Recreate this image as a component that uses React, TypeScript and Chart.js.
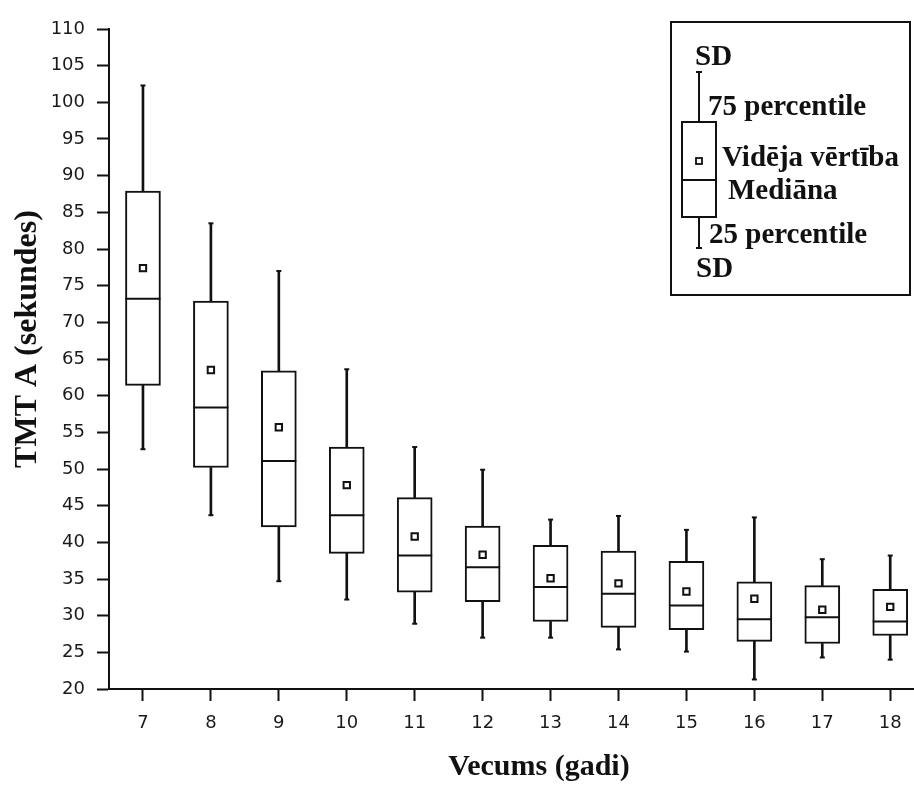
import React, { useEffect, useRef } from "react";
import { Chart, registerables } from "chart.js";

Chart.register(...registerables);

// ---- data ----
const ages = [7, 8, 9, 10, 11, 12, 13, 14, 15, 16, 17, 18];
const sdHigh = [102.3, 83.5, 77.0, 63.6, 53.0, 49.9, 43.1, 43.6, 41.7, 43.4, 37.7, 38.2];
const q3 = [87.9, 72.9, 63.4, 53.0, 46.1, 42.2, 39.6, 38.8, 37.4, 34.6, 34.1, 33.6];
const means = [77.4, 63.5, 55.7, 47.8, 40.8, 38.3, 35.1, 34.4, 33.3, 32.3, 30.8, 31.2];
const medians = [73.2, 58.4, 51.1, 43.7, 38.2, 36.6, 33.9, 33.0, 31.4, 29.5, 29.8, 29.2];
const q1 = [61.4, 50.2, 42.1, 38.5, 33.2, 31.9, 29.2, 28.4, 28.1, 26.5, 26.2, 27.3];
const sdLow = [52.7, 43.7, 34.7, 32.2, 28.9, 27.0, 27.0, 25.4, 25.1, 21.3, 24.3, 24.0];
const yMin = 20;
const yMax = 110;
const yStep = 5;
const xTitle = "Vecums (gadi)";
const yTitle = "TMT A (sekundes)";
const legendSDTop = "SD";
const legendQ3 = "75 percentile";
const legendMean = "Vidēja vērtība";
const legendMedian = "Mediāna";
const legendQ1 = "25 percentile";
const legendSDBottom = "SD";

const INK = "#111";
const TICK_FONT = { family: "'DejaVu Sans', sans-serif", size: 18 };

const annotPlugin = {
  id: "annot",
  afterDraw(chart: any) {
    const ctx = chart.ctx;
    const area = chart.chartArea;
    ctx.save();
    ctx.fillStyle = INK;
    ctx.strokeStyle = INK;
    // axis titles
    ctx.font = "bold 32px 'Liberation Serif', serif";
    ctx.textAlign = "center";
    ctx.textBaseline = "middle";
    ctx.save();
    ctx.translate(28, area.top + 310);
    ctx.rotate(-Math.PI / 2);
    ctx.fillText(yTitle, 0, 0);
    ctx.restore();
    ctx.font = "bold 30px 'Liberation Serif', serif";
    ctx.fillText(xTitle, 539, area.bottom + 78);

    // legend key box
    const L = 671;
    const T = area.top - 7;
    ctx.lineWidth = 2;
    ctx.strokeRect(L, T, 239, 273);
    const cx = L + 28;
    const bx0 = L + 11, bw = 34;
    const wTop = T + 50, bTop = T + 100, med = T + 158, bBot = T + 195, wBot = T + 226;
    ctx.beginPath();
    ctx.moveTo(cx, wTop); ctx.lineTo(cx, bTop);
    ctx.moveTo(cx, bBot); ctx.lineTo(cx, wBot);
    ctx.moveTo(cx - 3, wTop); ctx.lineTo(cx + 3, wTop);
    ctx.moveTo(cx - 3, wBot); ctx.lineTo(cx + 3, wBot);
    ctx.moveTo(bx0, med); ctx.lineTo(bx0 + bw, med);
    ctx.stroke();
    ctx.strokeRect(bx0, bTop, bw, bBot - bTop);
    ctx.lineWidth = 1.8;
    ctx.strokeRect(cx - 3, T + 136, 6, 6);

    ctx.font = "bold 29px 'Liberation Serif', serif";
    ctx.textAlign = "left";
    ctx.textBaseline = "alphabetic";
    ctx.fillText(legendSDTop, L + 24, T + 43);
    ctx.fillText(legendQ3, L + 37, T + 93);
    ctx.fillText(legendMean, L + 51, T + 144);
    ctx.fillText(legendMedian, L + 57, T + 177);
    ctx.fillText(legendQ1, L + 38, T + 221);
    ctx.fillText(legendSDBottom, L + 25, T + 255);
    ctx.restore();
  },
};

export default function App() {
  const ref = useRef<HTMLCanvasElement | null>(null);
  useEffect(() => {
    if (!ref.current) return;
    const chart = new Chart(ref.current, {
      type: "bar",
      data: {
        datasets: [
          {
            type: "scatter",
            label: "Vidēja vērtība",
            data: ages.map((a, i) => ({ x: a, y: means[i] })),
            pointStyle: "rect",
            pointRadius: 4.5,
            borderColor: INK,
            backgroundColor: "#fff",
            borderWidth: 2,
            order: 0,
          } as any,
          {
            type: "scatter",
            label: "Mediāna",
            data: ages.map((a, i) => ({ x: a, y: medians[i] })),
            pointStyle: "line",
            pointRadius: 17.5,
            borderColor: INK,
            borderWidth: 2,
            order: 1,
          } as any,
          {
            type: "scatter",
            label: "SD caps",
            data: [
              ...ages.map((a, i) => ({ x: a, y: sdHigh[i] })),
              ...ages.map((a, i) => ({ x: a, y: sdLow[i] })),
            ],
            pointStyle: "line",
            pointRadius: 2.5,
            borderColor: INK,
            borderWidth: 2,
            order: 2,
          } as any,
          {
            type: "bar",
            label: "25-75 percentile",
            data: ages.map((a, i) => ({ x: a, y: [q1[i], q3[i]] })),
            backgroundColor: "#fff",
            borderColor: INK,
            borderWidth: 2,
            borderSkipped: false,
            barThickness: 35,
            grouped: false,
            order: 3,
          } as any,
          {
            type: "bar",
            label: "SD upper",
            data: ages.map((a, i) => ({ x: a, y: [q3[i], sdHigh[i]] })),
            backgroundColor: INK,
            borderWidth: 0,
            barThickness: 2,
            grouped: false,
            order: 4,
          } as any,
          {
            type: "bar",
            label: "SD lower",
            data: ages.map((a, i) => ({ x: a, y: [sdLow[i], q1[i]] })),
            backgroundColor: INK,
            borderWidth: 0,
            barThickness: 2,
            grouped: false,
            order: 5,
          } as any,
        ],
      },
      options: {
        animation: false,
        responsive: false,
        devicePixelRatio: 1,
        layout: { autoPadding: false, padding: { top: 29, right: 0, left: 0, bottom: 0 } },
        plugins: { legend: { display: false }, tooltip: { enabled: false } },
        scales: {
          x: {
            type: "linear",
            offset: false,
            min: 6.5,
            max: 18.35,
            afterBuildTicks: (s: any) => {
              s.ticks = ages.map((v) => ({ value: v }));
            },
            afterFit: (s: any) => {
              s.height = 96;
              s.paddingLeft = 0;
              s.paddingRight = 0;
            },
            ticks: {
              font: TICK_FONT,
              color: "#1a1a1a",
              padding: 12,
              maxRotation: 0,
              autoSkip: false,
              callback: (v: any) => String(v),
            },
            grid: { offset: false, drawOnChartArea: false, drawTicks: true, tickLength: 12, tickColor: INK, tickWidth: 2 },
            border: { color: INK, width: 2 },
          },
          y: {
            type: "linear",
            min: yMin,
            max: yMax,
            afterFit: (s: any) => {
              s.width = 109;
            },
            ticks: {
              stepSize: yStep,
              font: TICK_FONT,
              color: "#1a1a1a",
              padding: 12,
            },
            grid: { drawOnChartArea: false, drawTicks: true, tickLength: 12, tickColor: INK, tickWidth: 2 },
            border: { color: INK, width: 2 },
          },
        },
      },
      plugins: [annotPlugin],
    } as any);
    return () => chart.destroy();
  }, []);
  return (
    <div style={{ position: "absolute", left: 0, top: 0, width: 914, height: 785, background: "#fff" }}>
      <canvas ref={ref} width={914} height={785} />
    </div>
  );
}
